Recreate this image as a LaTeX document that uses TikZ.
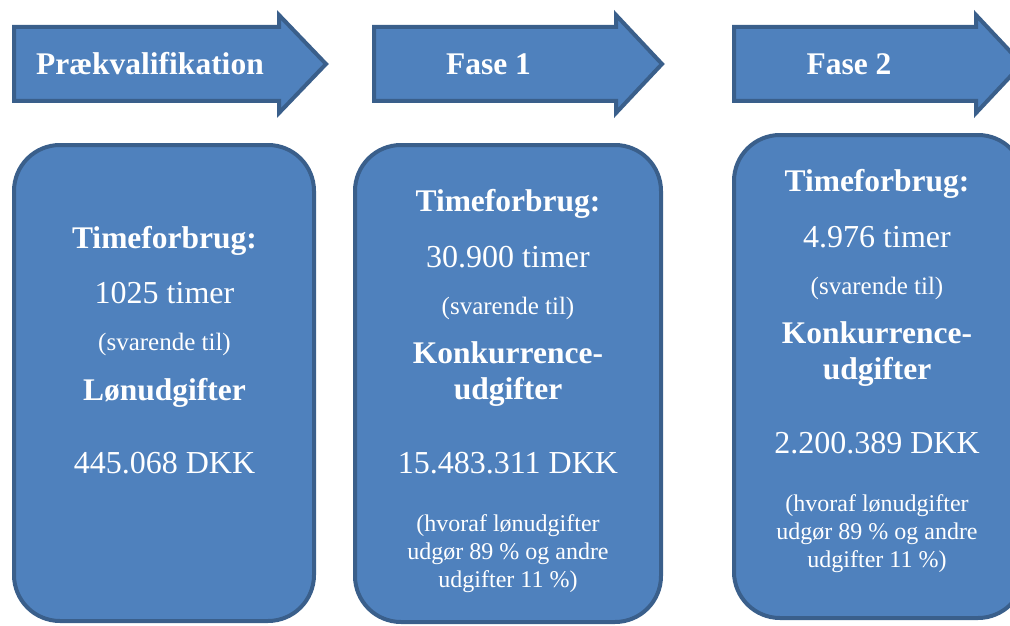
\documentclass[tikz,border=0pt]{standalone}
\usepackage{fontspec}
\setmainfont{Liberation Serif}
\definecolor{phasefill}{HTML}{4F81BD}
\definecolor{phaseline}{HTML}{3A5F8B}
\tikzset{
  shapebody/.style={fill=phasefill, draw=phaseline, line width=4pt, line join=miter},
  panel/.style={shapebody, rounded corners=46pt, inner sep=0pt},
  txt/.style={text=white, anchor=base, inner sep=0pt, align=center},
  big/.style={txt, font=\fontsize{32}{38}\selectfont},
  bigb/.style={txt, font=\fontsize{31.5}{38}\selectfont\bfseries},
  mid/.style={txt, font=\fontsize{25}{30}\selectfont},
  small/.style={txt, font=\fontsize{24}{28}\selectfont},
}
\begin{document}
\begin{tikzpicture}[x=1pt, y=-1pt]
  \useasboundingbox (0,0) rectangle (1010,626);
  \clip (0,0) rectangle (1010,626);

  % phase arrows
  \draw[shapebody] (14,27) -- (279,27) -- (279,15) -- (326,64) -- (279,113) -- (279,101) -- (14,101) -- cycle;
  \draw[shapebody] (374,27) -- (616,27) -- (616,15) -- (662,64) -- (616,113) -- (616,101) -- (374,101) -- cycle;
  \draw[shapebody] (734,27) -- (976,27) -- (976,15) -- (1022,64) -- (976,113) -- (976,101) -- (734,101) -- cycle;
  \node[bigb] (a1) at (150,75) {Prækvalifikation};
  \node[bigb] (a2) at (488.5,75) {Fase 1};
  \node[bigb] (a3) at (849,75) {Fase 2};

  % panels
  \node[panel, minimum width=300pt, minimum height=476pt] (p1) at (164,383) {};
  \node[panel, minimum width=306pt, minimum height=477pt] (p2) at (508,383.5) {};
  \node[panel, minimum width=290pt, minimum height=483pt] (p3) at (879,376.5) {};

  % panel 1 text
  \node[bigb] (p1a) at (164.5,248) {Timeforbrug:};
  \node[big]  (p1b) at (164.5,303) {1025 timer};
  \node[mid]  (p1c) at (164.5,350) {(svarende til)};
  \node[bigb] (p1d) at (164.5,400) {Lønudgifter};
  \node[big]  (p1e) at (164.5,473) {445.068 DKK};

  % panel 2 text
  \node[bigb] (p2a) at (508,211) {Timeforbrug:};
  \node[big]  (p2b) at (508,267) {30.900 timer};
  \node[mid]  (p2c) at (508,314) {(svarende til)};
  \node[bigb] (p2d) at (508,363) {Konkurrence-};
  \node[bigb] (p2e) at (508,399) {udgifter};
  \node[big]  (p2f) at (508,473) {15.483.311 DKK};
  \node[small] (p2g) at (508,531) {(hvoraf lønudgifter};
  \node[small] (p2h) at (508,559) {udgør 89 \% og andre};
  \node[small] (p2i) at (508,587) {udgifter 11 \%)};

  % panel 3 text
  \node[bigb] (p3a) at (877,191) {Timeforbrug:};
  \node[big]  (p3b) at (877,247) {4.976 timer};
  \node[mid]  (p3c) at (877,294) {(svarende til)};
  \node[bigb] (p3d) at (877,343) {Konkurrence-};
  \node[bigb] (p3e) at (877,379) {udgifter};
  \node[big]  (p3f) at (877,453) {2.200.389 DKK};
  \node[small] (p3g) at (877,511) {(hvoraf lønudgifter};
  \node[small] (p3h) at (877,539) {udgør 89 \% og andre};
  \node[small] (p3i) at (877,567) {udgifter 11 \%)};
\end{tikzpicture}
\end{document}
